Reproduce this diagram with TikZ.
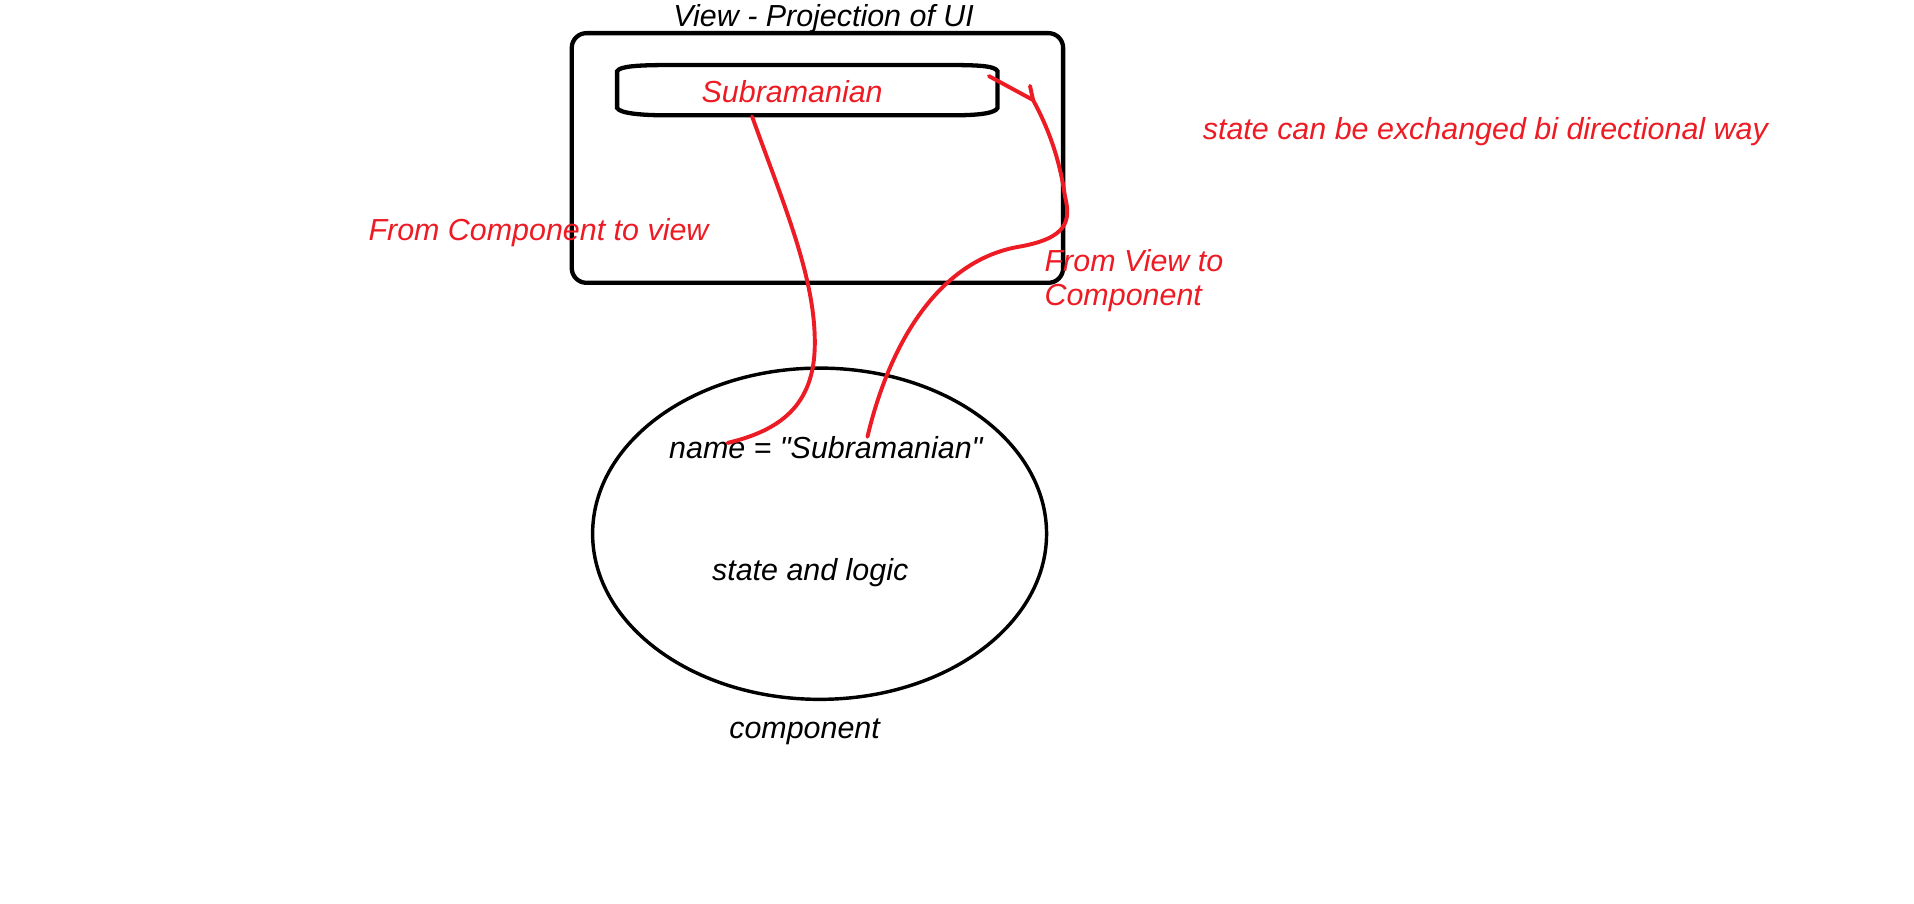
\documentclass[tikz,border=0pt]{standalone}
\usepackage{fontspec}
\setmainfont{Liberation Sans}
\usetikzlibrary{shapes.geometric}
\definecolor{paintred}{RGB}{237,28,36}

\begin{document}
\begin{tikzpicture}[x=0.5pt, y=-0.5pt, line width=1.4pt,
    lbl/.style={font=\fontsize{12.4}{14}\selectfont\itshape, inner sep=0pt, anchor=base west},
    link/.style={paintred, line width=1.6pt, line cap=round, line join=round}]
        \useasboundingbox (0,0) rectangle (1560,736);

        % View
        \node[draw, line width=1.75pt, rounded corners=6pt, minimum width=200.25pt, minimum height=101.75pt] (view) at (666.25,128.75) {};
        \node[lbl] (viewtitle) at (547.5,21.7) {View - Projection of UI};

        % Text field
        \draw[line width=1.75pt] (503,88) -- (503,58) .. controls (505,54) and (520,53) .. (545,53) -- (775,53) .. controls (800,53) and (811,54) .. (813,58) -- (813,88) .. controls (811,92) and (800,94) .. (775,94) -- (545,94) .. controls (520,94) and (505,92) .. (503,88) -- cycle;
        \node[lbl, paintred] (field) at (570.5,83.7) {Subramanian};

        % Component
        \node[draw, ellipse, minimum width=185pt, minimum height=135pt, inner sep=0pt] (comp) at (668,435) {};
        \node[lbl] (binding) at (544,374) {name = \textquotedbl Subramanian\textquotedbl};
        \node[lbl] (logic) at (579,473.5) {state and logic};
        \node[lbl] (comptitle) at (593,601.5) {component};

        % Component to view
        \coordinate (fieldout) at (613,95);
        \coordinate (namein) at (593,361);
        \draw[link] (fieldout) .. controls (640,170) and (666,230) .. (664,285) .. controls (662,335) and (630,352) .. (namein);

        % View to component
        \coordinate (nameout) at (707,356);
        \coordinate (tip) at (842,81.5);
        \coordinate (fieldin) at (806,62);
        \draw[link] (nameout) .. controls (725,280) and (765,212) .. (831,201) .. controls (870,194) and (873,180) .. (868,160) .. controls (863,125) and (852,100) .. (tip) -- (fieldin);
        \draw[link] (839.5,70) -- (tip);

        % Labels
        \node[lbl, paintred] (tocomp) at (299,195.6) {From Component to view};
        \node[lbl, paintred] (toview) at (850,221.5) {From View to};
        \node[lbl, paintred] (toviewb) at (850,248.7) {Component};
        \node[lbl, paintred] (bidir) at (979,114) {state can be exchanged bi directional way};
\end{tikzpicture}
\end{document}
